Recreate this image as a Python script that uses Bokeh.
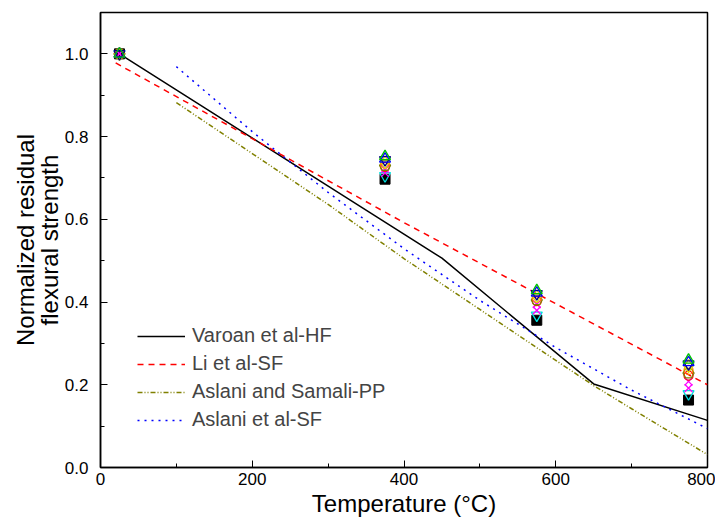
from bokeh.plotting import figure
from bokeh.embed import file_html
from bokeh.resources import INLINE
from bokeh.models import Range1d, Legend, LegendItem, FixedTicker, NumeralTickFormatter, Title

# ---- data ----
temps = [25, 375, 575, 775]
s_black = [1.0, 0.697, 0.356, 0.163]
s_cyan = [1.0, 0.705, 0.368, 0.178]
s_mag1 = [1.0, 0.712, 0.380, 0.192]
s_mag2 = [1.0, 0.722, 0.395, 0.208]
s_red = [1.0, 0.727, 0.402, 0.222]
s_olive = [1.0, 0.730, 0.405, 0.228]
s_orange = [1.0, 0.734, 0.410, 0.236]
s_yellow = [1.0, 0.738, 0.414, 0.245]
s_navy = [1.0, 0.744, 0.420, 0.250]
s_blue = [1.0, 0.746, 0.422, 0.254]
s_green = [1.0, 0.752, 0.428, 0.260]

varoan_t = [25, 450, 650, 800]
varoan_y = [1.0, 0.506, 0.202, 0.114]
li_t = [20, 200, 400, 600, 800]
li_y = [0.978, 0.795, 0.592, 0.396, 0.200]
samali_t = [100, 200, 300, 400, 500, 600, 650, 700, 800]
samali_y = [0.882, 0.759, 0.636, 0.505, 0.382, 0.259, 0.198, 0.142, 0.031]
aslani_t = [100, 200, 300, 400, 500, 600, 700, 800]
aslani_y = [0.969, 0.812, 0.665, 0.529, 0.404, 0.290, 0.187, 0.094]

x_ticks = [0, 200, 400, 600, 800]
y_ticks = [0.0, 0.2, 0.4, 0.6, 0.8, 1.0]

FONT = "Liberation Sans"

p = figure(width=715, height=519, output_backend="svg", toolbar_location=None,
           x_range=Range1d(0, 800), y_range=Range1d(0, 1.1),
           min_border_left=100, min_border_right=8, min_border_top=12, min_border_bottom=50)
p.grid.visible = False
p.outline_line_color = "black"
p.outline_line_width = 1.5

for ax in (p.xaxis[0], p.yaxis[0]):
    ax.axis_line_width = 1.5
    ax.major_tick_in = 7
    ax.major_tick_out = 0
    ax.minor_tick_in = 4
    ax.minor_tick_out = 0
    ax.major_label_text_font = FONT
    ax.major_label_text_font_size = "17px"
    ax.major_label_text_color = "black"
    ax.axis_label_text_font = FONT
    ax.axis_label_text_font_size = "24px"
    ax.axis_label_text_font_style = "normal"
    ax.axis_label_text_color = "black"

p.xaxis.ticker = FixedTicker(ticks=x_ticks, minor_ticks=[100, 300, 500, 700])
p.yaxis.ticker = FixedTicker(ticks=y_ticks, minor_ticks=[0.1, 0.3, 0.5, 0.7, 0.9])
p.yaxis.formatter = NumeralTickFormatter(format="0.0")
p.xaxis.axis_label = "Temperature (\u00b0C)"
p.xaxis.axis_label_standoff = 2
p.xaxis.major_label_standoff = 5
p.yaxis.major_label_standoff = 12

for txt, so in [("flexural strength", -2), ("Normalized residual", -8)]:
    t = Title(text=txt, align="center", text_font=FONT, text_font_size="24px",
              text_font_style="normal", text_color="black", standoff=so, offset=0)
    p.add_layout(t, "left")

r1 = p.line(varoan_t, varoan_y, line_color="black", line_width=1.5)
r2 = p.line(li_t, li_y, line_color="#ff0000", line_width=1.5, line_dash="6 5")
r3 = p.line(samali_t, samali_y, line_color="#808000", line_width=1.5, line_dash="5 2 1 2 1 2")
r4 = p.line(aslani_t, aslani_y, line_color="#0000ff", line_width=1.5, line_dash="2 5")

sz = 11
p.scatter(temps, s_black, marker="square", size=10, fill_color="black", line_color="black")
p.scatter(temps, s_cyan, marker="inverted_triangle", size=sz, fill_color=None, line_color="#00e0e0", line_width=1.3)
p.scatter(temps, s_mag1, marker="x", size=sz, line_color="#ff00ff", line_width=1.3)
p.scatter(temps, s_mag2, marker="x", size=sz, line_color="#ff00ff", line_width=1.3)
p.scatter(temps, s_red, marker="circle", size=9, fill_color=None, line_color="#ff0000", line_width=1.2)
p.scatter(temps, s_olive, marker="hex", size=sz, fill_color=None, line_color="#808000", line_width=1.3)
p.scatter(temps, s_orange, marker="circle", size=9, fill_color=None, line_color="#ff8000", line_width=1.2)
p.scatter(temps, s_yellow, marker="diamond", size=13, fill_color=None, line_color="#e0e000", line_width=1.3)
p.scatter(temps, s_navy, marker="inverted_triangle", size=sz, fill_color=None, line_color="#000080", line_width=1.3)
p.scatter(temps, s_blue, marker="triangle", size=sz, fill_color=None, line_color="#0000ff", line_width=1.3)
p.scatter(temps, s_green, marker="triangle", size=sz, fill_color=None, line_color="#00c000", line_width=1.3)

legend = Legend(items=[
    LegendItem(label="Varoan et al-HF", renderers=[r1]),
    LegendItem(label="Li et al-SF", renderers=[r2]),
    LegendItem(label="Aslani and Samali-PP", renderers=[r3]),
    LegendItem(label="Aslani et al-SF", renderers=[r4]),
], location=(37, 36), orientation="vertical")
legend.background_fill_alpha = 0
legend.border_line_alpha = 0
legend.label_text_font = FONT
legend.label_text_font_size = "20px"
legend.glyph_width = 48
legend.glyph_height = 20
legend.label_standoff = 7
legend.spacing = 5
legend.padding = 0
legend.margin = 0
legend.label_height = 20
p.add_layout(legend)

open("out.html", "w").write(file_html(p, INLINE))
